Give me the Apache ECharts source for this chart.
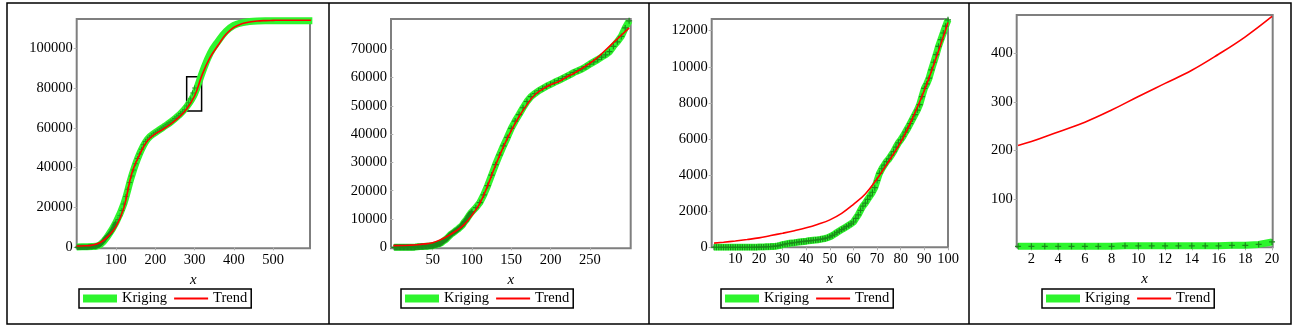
<!DOCTYPE html>
<html><head><meta charset="utf-8">
<script src="https://cdn.jsdelivr.net/npm/echarts@6/dist/echarts.min.js"></script>
<style>html,body{margin:0;padding:0;background:#fff}#c{width:1294px;height:328px}</style>
</head><body><div id="c"></div>
<script>
// ---- Data ----
// Kriging observations, one per day x = 1..100
const krigDaily = [2,2,2,2,2,2,2,2,3,3, 3,3,3,3,3,3,4,4,6,11,
  15,20,25,30,38,48,60,80,110,150, 175,200,220,240,255,275,295,310,325,340,
  360,375,390,405,420,440,465,490,530,580, 650,730,820,900,980,1060,1140,1220,1300,1400,
  1600,1800,2050,2280,2450,2650,2850,3050,3300,3700, 4100,4350,4550,4750,4900,5100,5300,5550,5780,5950,
  6150,6380,6600,6850,7100,7350,7600,7900,8350,8800, 9050,9370,9830,10250,10670,11130,11500,11870,12250,12600];
// Kriging observations after day 100
const krigLateX = [105,110,115,120,125,130,135,140,145,150,155,160,165,170,175,180,185,190,195,200,
  205,210,215,220,225,230,235,240,245,250,255,260,265,270,275,280,285,290,295,300];
const krigLate = [14000,15800,18500,21800,25500,29200,32600,35800,38800,42000,44600,46900,49300,51500,53200,54300,55300,56100,56900,57600,
  58300,58900,59600,60300,61000,61800,62400,63000,63800,64700,65500,66300,67200,68000,69100,71000,72600,74500,77500,80000];
// Panel 1: kriging band and trend over the full horizon
const p1X = [0,20,40,60,80,100,120,140,160,180,200,220,240,260,280,300,320,340,360,380,400,420,440,460,480,500,520,540,560,580,600];
const krigBand1 = [200,250,350,1400,5900,12500,21800,35800,46900,54300,57600,60300,63000,66300,70600,77000,88000,97500,103500,108500,111500,112800,113400,113700,113800,113800,113800,113800,113800,113800,113800];
const trend1 = [650,750,1100,2400,5500,10400,19800,37000,46500,53500,57000,59300,62000,65300,69500,76000,87000,95500,101500,107000,110500,112300,113200,113700,113900,114000,114100,114100,114100,114100,114100];
const insetBoxX = [280,318], insetBoxY = [68500,85700];
// Panel 2 trend
const p2X = [0,10,20,30,40,50,60,70,80,90,100,110,120,130,140,150,160,170,180,190,200,210,220,230,240,250,260,270,280,290,300];
const trend2 = [600,650,750,900,1200,1640,2700,4100,5850,8000,11300,15500,21800,29000,35500,41200,46200,50400,53900,55900,57400,58500,60100,61500,63200,65000,67100,69700,72300,74900,77500];
// Panel 3 trend
const p3X = [1,5,10,15,20,25,30,35,40,45,50,55,60,65,70,75,80,85,90,95,100];
const trend3 = [230,280,350,430,520,650,780,920,1080,1280,1520,1880,2380,2950,3800,4780,5820,7150,8700,10500,12450];
// Panel 4 trend
const p4X = [1,2,4,6,8,10,12,14,16,18,20];
const trend4 = [210,218,238,258,283,311,338,365,398,434,476];
// Tick labels
const p1XTicks = [100,200,300,400,500], p1YTicks = [0,20000,40000,60000,80000,100000];
const p2XTicks = [50,100,150,200,250], p2YTicks = [0,10000,20000,30000,40000,50000,60000,70000];
const p3XTicks = [10,20,30,40,50,60,70,80,90,100], p3YTicks = [0,2000,4000,6000,8000,10000,12000];
const p4XTicks = [2,4,6,8,10,12,14,16,18,20], p4YTicks = [100,200,300,400];
const legendNames = ['Kriging','Trend'];

// ---- Build ----
const GREEN = '#2df52d', DARK = '#1b8a1b', RED = '#ff0000';
const FONT = "'Liberation Serif','Times New Roman',serif";
const PLUS = 'path://M2,0H3V2H5V3H3V5H2V3H0V2H2Z';
const zip = (xs, ys) => xs.map((x, i) => [x, ys[i]]);
const dailyPairs = krigDaily.map((v, i) => [i + 1, v]);
const allObs = dailyPairs.concat(zip(krigLateX, krigLate));

const grids = [
  {left: 76.7, top: 19, width: 233.3, height: 229.3},
  {left: 391, top: 19, width: 239.7, height: 229.3},
  {left: 711.7, top: 19, width: 236.3, height: 228.3},
  {left: 1016.7, top: 15, width: 256, height: 232.3}
].map(g => Object.assign(g, {show: true, borderColor: '#7f7f7f', borderWidth: 2, backgroundColor: 'transparent'}));

const xr = [[0,594],[-3,302],[0,100],[0.9,20.05]];
const yr = [[-500,114700],[-350,80650],[0,12645],[0,479]];
const xt = [p1XTicks,p2XTicks,p3XTicks,p4XTicks];
const yt = [p1YTicks,p2YTicks,p3YTicks,p4YTicks];

const lab = {color: '#000', fontFamily: FONT, fontSize: 14.5};
const xAxis = xr.map((r, i) => ({
  type: 'value', gridIndex: i, min: r[0], max: r[1],
  axisLine: {show: false}, splitLine: {show: false},
  axisTick: {show: true, length: 3, lineStyle: {color: '#b0b0b0'}, customValues: xt[i]},
  axisLabel: Object.assign({customValues: xt[i], margin: 4, formatter: v => String(v)}, lab),
  name: 'x', nameLocation: 'middle', nameGap: 21,
  nameTextStyle: {color: '#000', fontFamily: FONT, fontSize: 15, fontStyle: 'italic'}
}));
const yAxis = yr.map((r, i) => ({
  type: 'value', gridIndex: i, min: r[0], max: r[1],
  axisLine: {show: false}, splitLine: {show: false},
  axisTick: {show: true, length: 3, lineStyle: {color: '#b0b0b0'}, customValues: yt[i]},
  axisLabel: Object.assign({customValues: yt[i], margin: 4, formatter: v => String(v)}, lab)
}));

function krigSeries(i, data) {
  return {type: 'line', name: 'Kriging', xAxisIndex: i, yAxisIndex: i, data,
    lineStyle: {color: GREEN, width: 7}, symbol: PLUS, symbolSize: 6, showSymbol: true, showAllSymbol: true,
    itemStyle: {color: DARK}, clip: true, z: 2};
}
function trendSeries(i, data) {
  return {type: 'line', name: 'Trend', xAxisIndex: i, yAxisIndex: i, data,
    smooth: 0.4, symbol: 'none',
    lineStyle: {color: RED, width: 1.6}, itemStyle: {color: RED}, clip: true, z: 4};
}

const series = [
  {type: 'line', name: 'Kriging', xAxisIndex: 0, yAxisIndex: 0, data: zip(p1X, krigBand1),
    smooth: 0.4, symbol: 'none', lineStyle: {color: GREEN, width: 7}, itemStyle: {color: GREEN}, clip: true, z: 2,
    markArea: {silent: true, itemStyle: {color: 'rgba(0,0,0,0)', borderColor: '#000', borderWidth: 1.5},
      data: [[{coord: [insetBoxX[0], insetBoxY[0]]}, {coord: [insetBoxX[1], insetBoxY[1]]}]]}},
  {type: 'scatter', name: 'Data', xAxisIndex: 0, yAxisIndex: 0, data: allObs,
    symbol: PLUS, symbolSize: 5, itemStyle: {color: DARK}, clip: true, z: 3},
  trendSeries(0, zip(p1X, trend1)),
  krigSeries(1, allObs),
  trendSeries(1, zip(p2X, trend2)),
  krigSeries(2, dailyPairs),
  trendSeries(2, zip(p3X, trend3)),
  krigSeries(3, dailyPairs.slice(0, 20)),
  trendSeries(3, zip(p4X, trend4))
];

const legend = [79, 401, 721, 1042].map(l => ({
  left: l, top: 289, orient: 'horizontal', selectedMode: false,
  itemWidth: 34, itemHeight: 8, itemGap: 7, padding: [2, 4, 2, 4],
  borderColor: '#000', borderWidth: 1.5,
  textStyle: {color: '#000', fontFamily: FONT, fontSize: 14.5},
  data: [
    {name: legendNames[0], icon: 'rect', itemStyle: {color: GREEN}},
    {name: legendNames[1], icon: 'path://M0,0H40V2.3H0Z', itemStyle: {color: RED}}
  ]
}));

const frame = {type: 'rect', shape: {x: 7, y: 3, width: 1284, height: 321}, style: {fill: 'none', stroke: '#000', lineWidth: 1.5}, silent: true};
const seps = [329, 649, 969].map(x => ({type: 'line', shape: {x1: x, y1: 3, x2: x, y2: 324}, style: {stroke: '#000', lineWidth: 1.5}, silent: true}));

const chart = echarts.init(document.getElementById('c'), null, {renderer: 'canvas'});
chart.setOption({
  animation: false, backgroundColor: '#fff',
  grid: grids, xAxis, yAxis, series, legend,
  graphic: [frame].concat(seps)
});
</script></body></html>
